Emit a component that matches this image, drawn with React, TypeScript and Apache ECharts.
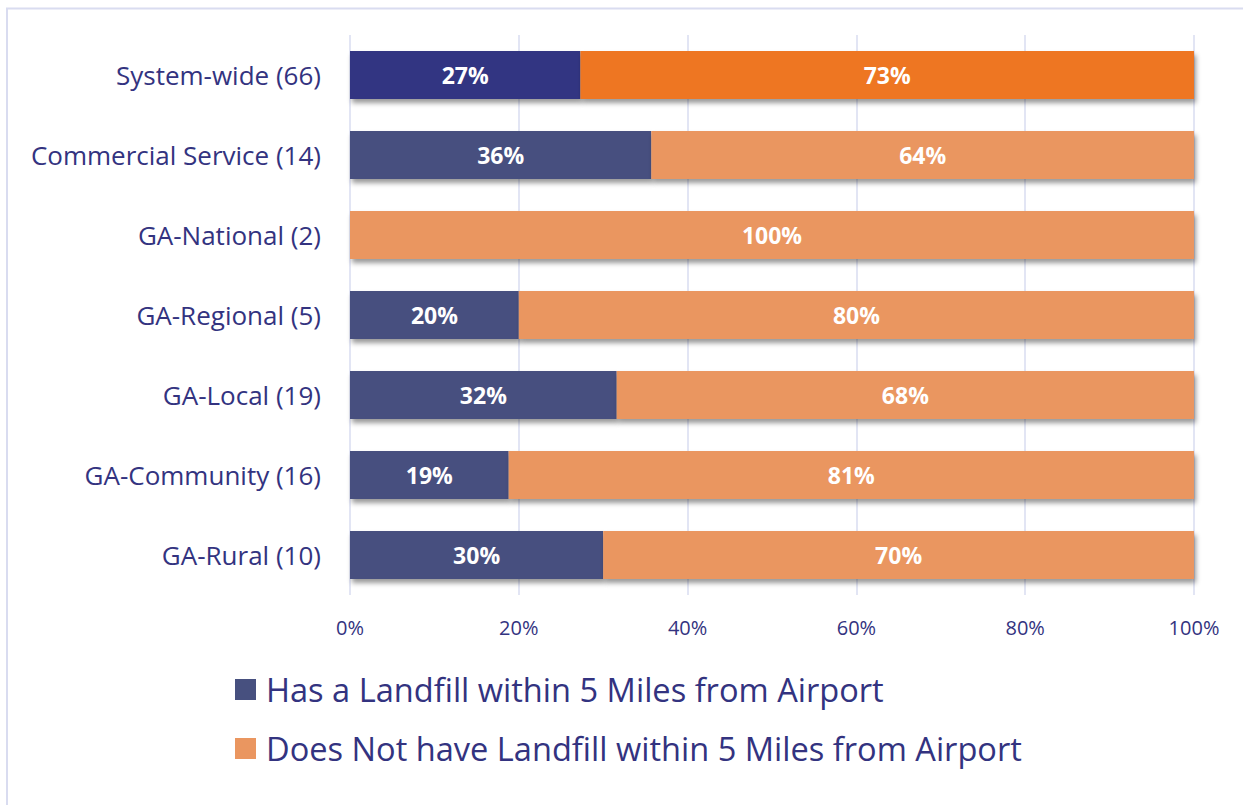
import React, { useEffect, useRef } from "react";
import * as echarts from "echarts";

const categories = [
  "System-wide (66)",
  "Commercial Service (14)",
  "GA-National (2)",
  "GA-Regional (5)",
  "GA-Local (19)",
  "GA-Community (16)",
  "GA-Rural (10)",
];
const hasLandfill = [27.3, 35.7, 0, 20, 31.6, 18.8, 30];
const noLandfill = [72.7, 64.3, 100, 80, 68.4, 81.2, 70];
const xTicks = [0, 20, 40, 60, 80, 100];
const seriesNames = [
  "Has a Landfill within 5 Miles from Airport",
  "Does Not have Landfill within 5 Miles from Airport",
];

const NAVY = "#47507F";
const NAVY_HI = "#333682";
const ORANGE = "#EA9660";
const ORANGE_HI = "#EE7623";
const TEXT = "#333380";
const GRID = "#D9DCF0";
const FONT = "'Open Sans', sans-serif";

export default function App() {
  const ref = useRef<HTMLDivElement>(null);
  useEffect(() => {
    if (!ref.current) return;
    const chart = echarts.init(ref.current, null, { renderer: "svg" });
    const shadow = {
      shadowBlur: 5,
      shadowOffsetX: 2,
      shadowOffsetY: 4,
      shadowColor: "rgba(0,0,0,0.4)",
    };
    const mk = (vals: number[], base: string, hi: string) =>
      vals.map((v, i) => ({
        value: v,
        itemStyle: { color: i === 0 ? hi : base },
      }));
    const label = {
      show: true,
      position: "inside",
      color: "#fff",
      fontWeight: "bold",
      fontSize: 23,
      fontFamily: FONT,
      formatter: (p: any) => (p.value > 0 ? Math.round(p.value) + "%" : ""),
    };
    chart.setOption({
      animation: false,
      textStyle: { fontFamily: FONT },
      graphic: [
        {
          type: "rect",
          shape: { x: 7, y: 8.5, width: 1300, height: 900 },
          style: { fill: "none", stroke: GRID, lineWidth: 2 },
          silent: true,
        },
      ],
      grid: { left: 350, right: 49, top: 35, height: 560 },
      xAxis: {
        type: "value",
        min: 0,
        max: 100,
        interval: 20,
        axisLabel: {
          formatter: (v: number) => (xTicks.includes(v) ? v + "%" : ""),
          color: TEXT,
          fontSize: 20,
          fontFamily: FONT,
          margin: 22,
        },
        axisLine: { show: false },
        axisTick: { show: false },
        splitLine: { show: true, lineStyle: { color: GRID, width: 1.5 } },
      },
      yAxis: {
        type: "category",
        data: categories,
        inverse: true,
        axisLine: { show: false },
        axisTick: { show: false },
        axisLabel: {
          color: TEXT,
          fontSize: 26,
          fontFamily: FONT,
          margin: 29,
        },
      },
      legend: {
        orient: "vertical",
        left: 230,
        top: 668,
        itemWidth: 21,
        itemHeight: 21,
        itemGap: 26,
        icon: "rect",
        textStyle: {
          color: TEXT,
          fontSize: 32.6,
          fontFamily: FONT,
          padding: [0, 0, 0, 5],
        },
        data: seriesNames,
      },
      series: [
        {
          name: seriesNames[0],
          type: "bar",
          stack: "s",
          barCategoryGap: "40%",
          color: NAVY,
          itemStyle: { ...shadow },
          label,
          data: mk(hasLandfill, NAVY, NAVY_HI),
        },
        {
          name: seriesNames[1],
          type: "bar",
          stack: "s",
          barCategoryGap: "40%",
          color: ORANGE,
          itemStyle: { ...shadow },
          label,
          data: mk(noLandfill, ORANGE, ORANGE_HI),
        },
      ],
    });
    return () => chart.dispose();
  }, []);
  return (
    <div
      ref={ref}
      style={{
        position: "absolute",
        left: 0,
        top: 0,
        width: 1243,
        height: 805,
        background: "#fff",
      }}
    />
  );
}
